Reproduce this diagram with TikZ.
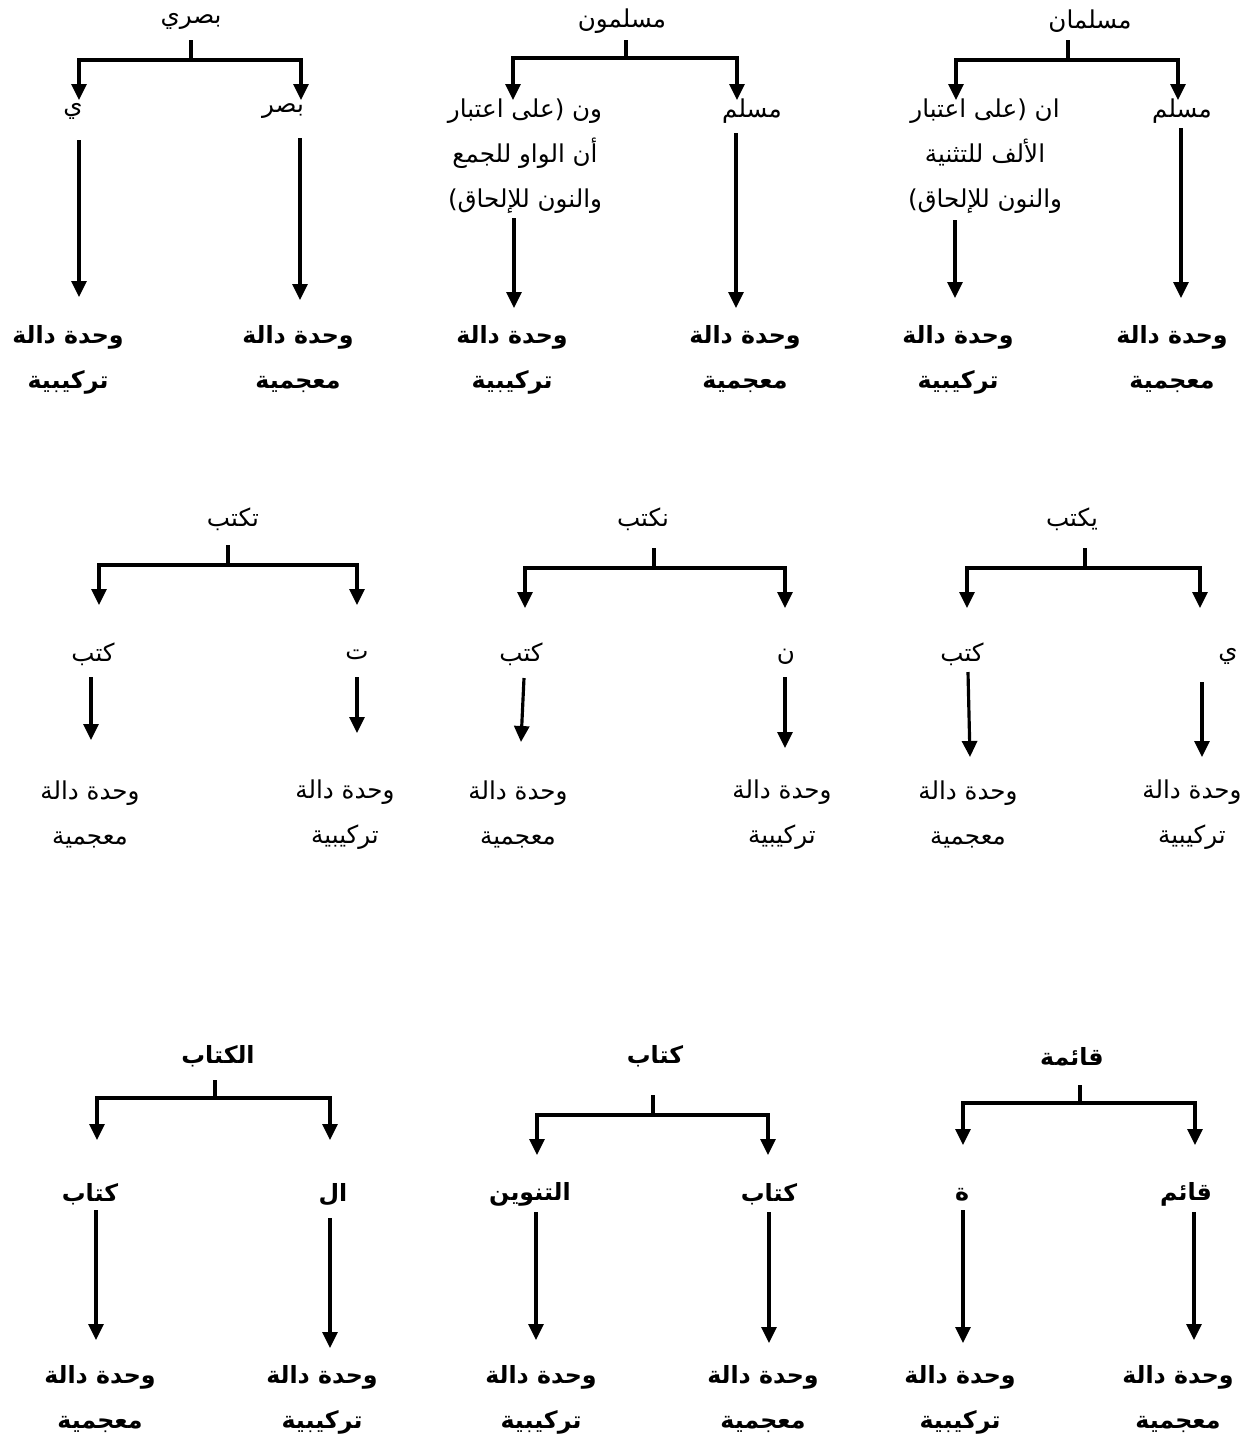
\documentclass[tikz,border=0pt]{standalone}
\usepackage{fontspec}
\usetikzlibrary{arrows.meta}
\newfontfamily\arabicfont[Script=Arabic]{DejaVu Sans}
\TeXXeTstate=1
\newcommand\AR[1]{\beginR #1\endR}
\begin{document}
\begin{tikzpicture}[x=0.02cm,y=-0.02cm,
  lbl/.style={inner sep=0pt, align=center, yshift=-0.09cm, font=\arabicfont\fontsize{14}{25.6}\selectfont},
  blbl/.style={inner sep=0pt, align=center, yshift=-0.09cm, font=\arabicfont\bfseries\fontsize{13.5}{25.6}\selectfont},
  ln/.style={line width=1.9pt},
  arr/.style={line width=1.8pt, -{Triangle[width=0.3cm,length=0.32cm]}}]
\fill[white] (0,0) rectangle (1260,1438);
\useasboundingbox (0,0) rectangle (1260,1438);

% ---------- first row ----------
% مسلمان
\node[lbl] (a0) at (1090,17) {\AR{مسلمان}};
\node[lbl] (a1) at (1182,107) {\AR{مسلم}};
\node[lbl] (a2) at (985,152) {\AR{ان (على اعتبار}\\\AR{الألف للتثنية}\\\AR{والنون للإلحاق)}};
\node[blbl] (a3) at (1172,355) {\AR{وحدة دالة}\\\AR{معجمية}};
\node[blbl] (a4) at (958,355) {\AR{وحدة دالة}\\\AR{تركيبية}};
\coordinate (a-s) at (1068,40); \coordinate (a-j) at (1068,60);
\coordinate (a1-t) at (1178,100); \coordinate (a2-t) at (956,100);
\coordinate (a1-b) at (1181,128); \coordinate (a3-t) at (1181,298);
\coordinate (a2-b) at (955,220);  \coordinate (a4-t) at (955,298);
\draw[ln] (a-s) -- (a-j);
\draw[arr] (a-j) -| (a1-t);
\draw[arr] (a-j) -| (a2-t);
\draw[arr] (a1-b) -- (a3-t);
\draw[arr] (a2-b) -- (a4-t);

% مسلمون
\node[lbl] (b0) at (622,17) {\AR{مسلمون}};
\node[lbl] (b1) at (752,107) {\AR{مسلم}};
\node[lbl] (b2) at (525,152) {\AR{ون (على اعتبار}\\\AR{أن الواو للجمع}\\\AR{والنون للإلحاق)}};
\node[blbl] (b3) at (745,355) {\AR{وحدة دالة}\\\AR{معجمية}};
\node[blbl] (b4) at (512,355) {\AR{وحدة دالة}\\\AR{تركيبية}};
\coordinate (b-s) at (626,40); \coordinate (b-j) at (626,58);
\coordinate (b1-t) at (737,100); \coordinate (b2-t) at (513,100);
\coordinate (b1-b) at (736,133); \coordinate (b3-t) at (736,308);
\coordinate (b2-b) at (514,218); \coordinate (b4-t) at (514,308);
\draw[ln] (b-s) -- (b-j);
\draw[arr] (b-j) -| (b1-t);
\draw[arr] (b-j) -| (b2-t);
\draw[arr] (b1-b) -- (b3-t);
\draw[arr] (b2-b) -- (b4-t);

% بصري
\node[lbl] (c0) at (191,17) {\AR{بصري}};
\node[lbl] (c1) at (283,107) {\AR{بصر}};
\node[lbl] (c2) at (73,107) {\AR{ي}};
\node[blbl] (c3) at (298,355) {\AR{وحدة دالة}\\\AR{معجمية}};
\node[blbl] (c4) at (68,355) {\AR{وحدة دالة}\\\AR{تركيبية}};
\coordinate (c-s) at (191,40); \coordinate (c-j) at (191,60);
\coordinate (c1-t) at (301,100); \coordinate (c2-t) at (79,100);
\coordinate (c1-b) at (300,138); \coordinate (c3-t) at (300,300);
\coordinate (c2-b) at (79,140);  \coordinate (c4-t) at (79,297);
\draw[ln] (c-s) -- (c-j);
\draw[arr] (c-j) -| (c1-t);
\draw[arr] (c-j) -| (c2-t);
\draw[arr] (c1-b) -- (c3-t);
\draw[arr] (c2-b) -- (c4-t);

% ---------- second row ----------
% يكتب
\node[lbl] (d0) at (1072,515) {\AR{يكتب}};
\node[lbl] (d1) at (1228,652) {\AR{ي}};
\node[lbl] (d2) at (962,650) {\AR{كتب}};
\node[lbl] (d3) at (1192,810) {\AR{وحدة دالة}\\\AR{تركيبية}};
\node[lbl] (d4) at (968,810) {\AR{وحدة دالة}\\\AR{معجمية}};
\coordinate (d-s) at (1085,548); \coordinate (d-j) at (1085,568);
\coordinate (d1-t) at (1200,608); \coordinate (d2-t) at (967,608);
\coordinate (d1-b) at (1202,682); \coordinate (d3-t) at (1202,757);
\coordinate (d2-b) at (968,672);  \coordinate (d4-t) at (970,757);
\draw[ln] (d-s) -- (d-j);
\draw[arr] (d-j) -| (d1-t);
\draw[arr] (d-j) -| (d2-t);
\draw[arr] (d1-b) -- (d3-t);
\draw[arr] (d2-b) -- (d4-t);

% نكتب
\node[lbl] (e0) at (643,515) {\AR{نكتب}};
\node[lbl] (e1) at (786,652) {\AR{ن}};
\node[lbl] (e2) at (521,650) {\AR{كتب}};
\node[lbl] (e3) at (782,810) {\AR{وحدة دالة}\\\AR{تركيبية}};
\node[lbl] (e4) at (518,810) {\AR{وحدة دالة}\\\AR{معجمية}};
\coordinate (e-s) at (654,548); \coordinate (e-j) at (654,568);
\coordinate (e1-t) at (785,608); \coordinate (e2-t) at (525,608);
\coordinate (e1-b) at (785,677); \coordinate (e3-t) at (785,748);
\coordinate (e2-b) at (524,678); \coordinate (e4-t) at (521,742);
\draw[ln] (e-s) -- (e-j);
\draw[arr] (e-j) -| (e1-t);
\draw[arr] (e-j) -| (e2-t);
\draw[arr] (e1-b) -- (e3-t);
\draw[arr] (e2-b) -- (e4-t);

% تكتب
\node[lbl] (f0) at (233,515) {\AR{تكتب}};
\node[lbl] (f1) at (357,650) {\AR{ت}};
\node[lbl] (f2) at (93,650) {\AR{كتب}};
\node[lbl] (f3) at (345,810) {\AR{وحدة دالة}\\\AR{تركيبية}};
\node[lbl] (f4) at (90,810) {\AR{وحدة دالة}\\\AR{معجمية}};
\coordinate (f-s) at (228,545); \coordinate (f-j) at (228,565);
\coordinate (f1-t) at (357,605); \coordinate (f2-t) at (99,605);
\coordinate (f1-b) at (357,677); \coordinate (f3-t) at (357,733);
\coordinate (f2-b) at (91,677);  \coordinate (f4-t) at (91,740);
\draw[ln] (f-s) -- (f-j);
\draw[arr] (f-j) -| (f1-t);
\draw[arr] (f-j) -| (f2-t);
\draw[arr] (f1-b) -- (f3-t);
\draw[arr] (f2-b) -- (f4-t);

% ---------- third row ----------
% قائمة
\node[blbl] (g0) at (1072,1052) {\AR{قائمة}};
\node[blbl] (g1) at (1186,1190) {\AR{قائم}};
\node[blbl] (g2) at (962,1190) {\AR{ة}};
\node[blbl] (g3) at (1178,1395) {\AR{وحدة دالة}\\\AR{معجمية}};
\node[blbl] (g4) at (960,1395) {\AR{وحدة دالة}\\\AR{تركيبية}};
\coordinate (g-s) at (1080,1085); \coordinate (g-j) at (1080,1103);
\coordinate (g1-t) at (1195,1145); \coordinate (g2-t) at (963,1145);
\coordinate (g1-b) at (1194,1212); \coordinate (g3-t) at (1194,1340);
\coordinate (g2-b) at (963,1210);  \coordinate (g4-t) at (963,1343);
\draw[ln] (g-s) -- (g-j);
\draw[arr] (g-j) -| (g1-t);
\draw[arr] (g-j) -| (g2-t);
\draw[arr] (g1-b) -- (g3-t);
\draw[arr] (g2-b) -- (g4-t);

% كتاب
\node[blbl] (h0) at (655,1052) {\AR{كتاب}};
\node[blbl] (h1) at (769,1190) {\AR{كتاب}};
\node[blbl] (h2) at (530,1190) {\AR{التنوين}};
\node[blbl] (h3) at (763,1395) {\AR{وحدة دالة}\\\AR{معجمية}};
\node[blbl] (h4) at (541,1395) {\AR{وحدة دالة}\\\AR{تركيبية}};
\coordinate (h-s) at (653,1095); \coordinate (h-j) at (653,1115);
\coordinate (h1-t) at (768,1155); \coordinate (h2-t) at (537,1155);
\coordinate (h1-b) at (769,1212); \coordinate (h3-t) at (769,1343);
\coordinate (h2-b) at (536,1212); \coordinate (h4-t) at (536,1340);
\draw[ln] (h-s) -- (h-j);
\draw[arr] (h-j) -| (h1-t);
\draw[arr] (h-j) -| (h2-t);
\draw[arr] (h1-b) -- (h3-t);
\draw[arr] (h2-b) -- (h4-t);

% الكتاب
\node[blbl] (i0) at (218,1052) {\AR{الكتاب}};
\node[blbl] (i1) at (333,1190) {\AR{ال}};
\node[blbl] (i2) at (90,1190) {\AR{كتاب}};
\node[blbl] (i3) at (322,1395) {\AR{وحدة دالة}\\\AR{تركيبية}};
\node[blbl] (i4) at (100,1395) {\AR{وحدة دالة}\\\AR{معجمية}};
\coordinate (i-s) at (215,1080); \coordinate (i-j) at (215,1098);
\coordinate (i1-t) at (330,1140); \coordinate (i2-t) at (97,1140);
\coordinate (i1-b) at (330,1218); \coordinate (i3-t) at (330,1348);
\coordinate (i2-b) at (96,1210);  \coordinate (i4-t) at (96,1340);
\draw[ln] (i-s) -- (i-j);
\draw[arr] (i-j) -| (i1-t);
\draw[arr] (i-j) -| (i2-t);
\draw[arr] (i1-b) -- (i3-t);
\draw[arr] (i2-b) -- (i4-t);
\end{tikzpicture}
\end{document}
